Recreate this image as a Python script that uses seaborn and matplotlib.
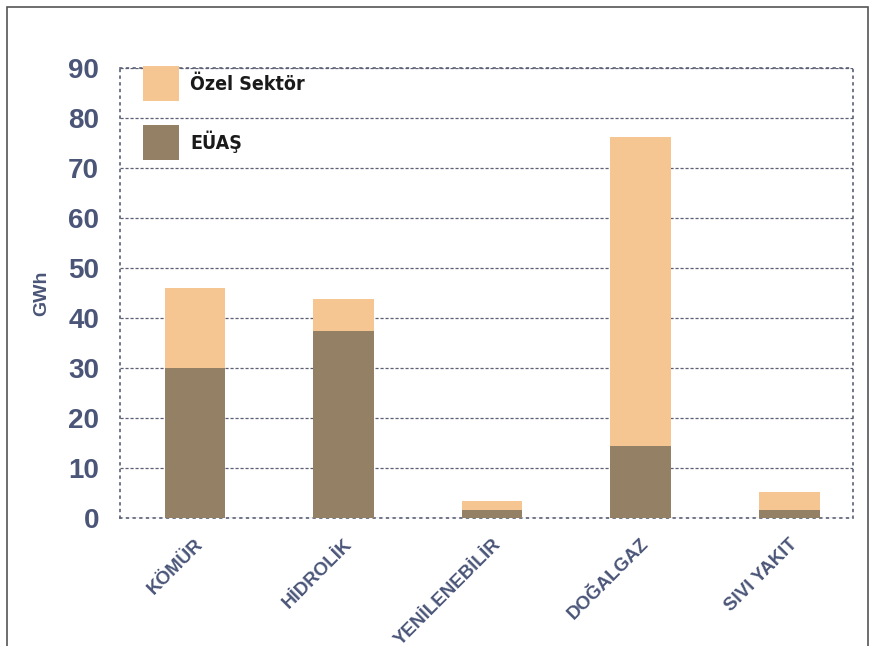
import matplotlib
matplotlib.use("Agg")
import matplotlib.pyplot as plt
import matplotlib.transforms as mtransforms
import seaborn as sns
import pandas as pd
from matplotlib.patches import Patch, Rectangle

categories = ["KÖMÜR", "HİDROLİK", "YENİLENEBİLİR", "DOĞALGAZ", "SIVI YAKIT"]
euas = [30.0, 37.4, 1.6, 14.4, 1.6]
ozel = [16.0, 6.4, 1.8, 61.8, 3.6]
yticks = [0, 10, 20, 30, 40, 50, 60, 70, 80, 90]

total = [a + b for a, b in zip(euas, ozel)]
df = pd.DataFrame({"kaynak": categories, "euas": euas, "toplam": total})

sns.set_theme(style="white")
plt.rcParams["font.family"] = ["Liberation Sans", "DejaVu Sans"]

C_OZEL = "#F5C592"
C_EUAS = "#948065"
C_TXT = "#4A5578"

fig = plt.figure(figsize=(8.77, 6.46), dpi=100)
ax = fig.add_axes([0.1368, 0.198, 0.8358, 0.6966])

sns.barplot(data=df, x="kaynak", y="toplam", color=C_OZEL, width=0.41,
            saturation=1, ax=ax, zorder=3, linewidth=0, edgecolor="none")
sns.barplot(data=df, x="kaynak", y="euas", color=C_EUAS, width=0.41,
            saturation=1, ax=ax, zorder=3, linewidth=0, edgecolor="none")

ax.set_xlim(-0.505, 4.43)
ax.set_ylim(0, 90)
ax.set_yticks(yticks)
ax.set_yticklabels([str(v) for v in yticks], fontsize=20, fontweight="bold", color=C_TXT)
ax.tick_params(axis="y", length=0, pad=15)
ax.tick_params(axis="x", length=0, pad=17)
ax.set_xticks(range(len(categories)))
ax.set_xticklabels(categories, rotation=45, ha="right", va="center",
                   rotation_mode="anchor", fontsize=13.5, fontweight="heavy", color=C_TXT)
shift = mtransforms.ScaledTranslation(6 / 100, 0, fig.dpi_scale_trans)
for lbl in ax.get_xticklabels():
    lbl.set_transform(lbl.get_transform() + shift)
ax.set_xlabel("")
ax.set_ylabel("GWh", fontsize=14, fontweight="bold", color=C_TXT, labelpad=13)

ax.yaxis.grid(True, linestyle=(0, (2.5, 1.5)), color="#5A5F75", linewidth=0.9, zorder=1)
ax.set_axisbelow(True)
for s in ax.spines.values():
    s.set_visible(True)
    s.set_linestyle((0, (1, 3)))
    s.set_color("#5A5F75")
    s.set_linewidth(1.2)

handles = [Patch(facecolor=C_OZEL, edgecolor="none", label="Özel Sektör"),
           Patch(facecolor=C_EUAS, edgecolor="none", label="EÜAŞ")]
leg = ax.legend(handles=handles, loc="upper left", bbox_to_anchor=(0.0314, 1.0044),
                frameon=False, handlelength=1.86, handleheight=2.4,
                handletextpad=0.57, labelspacing=1.24, borderaxespad=0, borderpad=0,
                prop={"family": ["DejaVu Sans"], "stretch": "condensed",
                      "weight": "bold", "size": 14})
for t in leg.get_texts():
    t.set_color("#1a1a1a")

fig.patches.append(Rectangle((7 / 877, -0.05), (868 - 7) / 877, 1 - 7 / 646 + 0.05,
                             transform=fig.transFigure, fill=False,
                             edgecolor="#555555", linewidth=1.2))

fig.savefig("out.png", dpi=100)
